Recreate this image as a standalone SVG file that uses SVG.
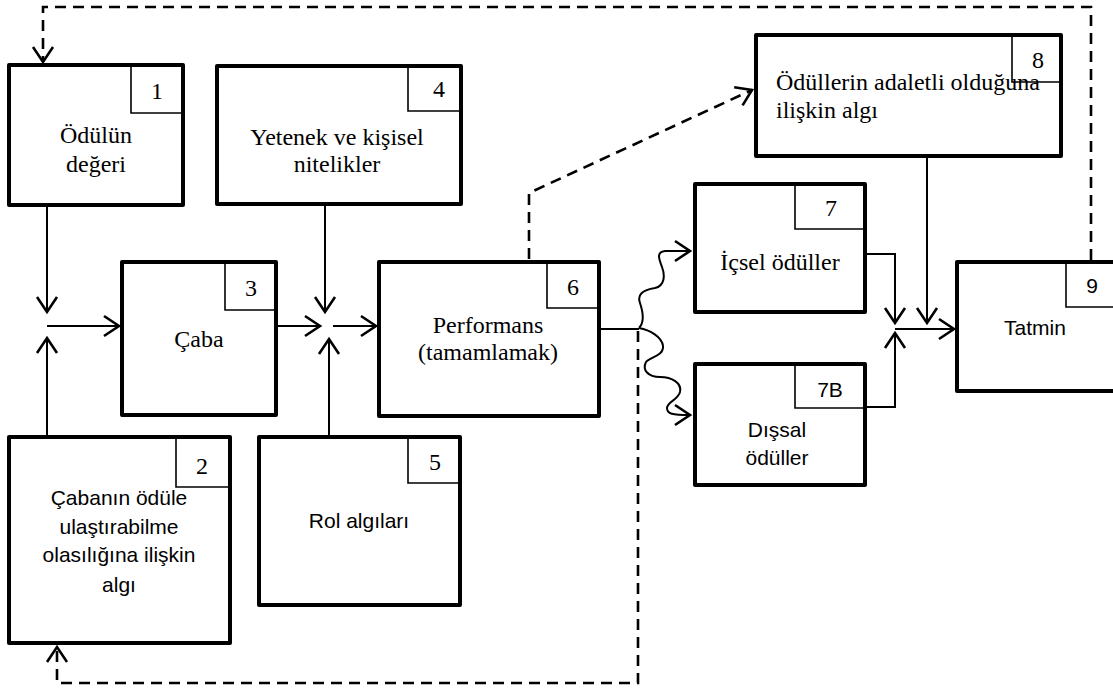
<svg xmlns="http://www.w3.org/2000/svg" width="1113" height="690" viewBox="0 0 1113 690">
<style>
.box{fill:#fff;stroke:#000;stroke-width:4;stroke-linejoin:round}
.num{fill:none;stroke:#000;stroke-width:1.6}
.ser{font-family:"Liberation Serif","Times New Roman",serif;font-size:24px;fill:#000}
.sans{font-family:"Liberation Sans",Arial,sans-serif;font-size:21px;fill:#000}
.c{text-anchor:middle}
.ln{fill:none;stroke:#000;stroke-width:2}
.dash{fill:none;stroke:#000;stroke-width:2.6;stroke-dasharray:11 7}
</style>
<defs>
<marker id="arr" markerUnits="userSpaceOnUse" viewBox="-18 -13 21 26" markerWidth="21" markerHeight="26" refX="0" refY="0" orient="auto">
<path d="M-15,-10 L0,0 L-15,10" fill="none" stroke="#000" stroke-width="2.6" stroke-dasharray="none" stroke-linejoin="miter"/>
</marker>
</defs>
<rect width="1113" height="690" fill="#fff"/>
<g id="connectors">
<path class="ln" d="M47 207 V312" marker-end="url(#arr)"/>
<path class="ln" d="M47 326 H119" marker-end="url(#arr)"/>
<path class="ln" d="M47 435 V338" marker-end="url(#arr)"/>
<path class="ln" d="M278 326 H320" marker-end="url(#arr)"/>
<path class="ln" d="M325 206 V312" marker-end="url(#arr)"/>
<path class="ln" d="M329 435 V339" marker-end="url(#arr)"/>
<path class="ln" d="M333 326 H376" marker-end="url(#arr)"/>
<path class="ln" d="M601 329 H639"/>
<path class="ln" d="M639 328 C645 322, 643 312, 640 303 C637 295, 642 290, 655 288 C665 286, 665 275, 662 267 C659 259, 656 252, 665 251 L690 251" marker-end="url(#arr)"/>
<path class="ln" d="M639 328 C650 330, 662 337, 663 346 C664 356, 650 357, 646 362 C642 370, 648 377, 660 377 C672 377, 682 383, 680 392 C678 400, 667 402, 667 408 C667 414, 672 415, 690 415" marker-end="url(#arr)"/>
<path class="ln" d="M867 254 H895 V323" marker-end="url(#arr)"/>
<path class="ln" d="M867 407 H895 V333" marker-end="url(#arr)"/>
<path class="ln" d="M895 329 H954" marker-end="url(#arr)"/>
<path class="ln" d="M927 158 V323" marker-end="url(#arr)"/>
<path class="dash" d="M1091 260 V7 H43 V62" marker-end="url(#arr)"/>
<path class="dash" d="M638 331 V683 H57 V647" marker-end="url(#arr)"/>
<path class="dash" d="M529 259 V193 L752 90" marker-end="url(#arr)"/>
</g>
<g id="node1">
<rect class="box" x="9" y="65" width="174" height="140"/>
<path class="num" d="M131 65 V113 H183"/>
<text class="ser c" x="157" y="99">1</text>
<text class="ser c" x="96" y="143">Ödülün</text>
<text class="ser c" x="96" y="172">değeri</text>
</g>
<g id="node4">
<rect class="box" x="217" y="66" width="244" height="138"/>
<path class="num" d="M408 66 V111 H461"/>
<text class="ser c" x="439" y="97">4</text>
<text class="ser c" x="337" y="145">Yetenek ve kişisel</text>
<text class="ser c" x="337" y="172">nitelikler</text>
</g>
<g id="node3">
<rect class="box" x="122" y="262" width="154" height="153"/>
<path class="num" d="M225 262 V310 H276"/>
<text class="ser c" x="251" y="296">3</text>
<text class="ser c" x="199" y="347">Çaba</text>
</g>
<g id="node2">
<rect class="box" x="9" y="437" width="221" height="206"/>
<path class="num" d="M176 437 V487 H230"/>
<text class="ser c" x="202" y="474">2</text>
<text class="sans c" x="119" y="505">Çabanın ödüle</text>
<text class="sans c" x="119" y="534">ulaştırabilme</text>
<text class="sans c" x="119" y="562">olasılığına ilişkin</text>
<text class="sans c" x="119" y="592">algı</text>
</g>
<g id="node5">
<rect class="box" x="259" y="437" width="201" height="168"/>
<path class="num" d="M408 437 V483 H460"/>
<text class="ser c" x="435" y="470">5</text>
<text class="sans c" x="359" y="528">Rol algıları</text>
</g>
<g id="node6">
<rect class="box" x="379" y="262" width="220" height="154"/>
<path class="num" d="M547 262 V308 H599"/>
<text class="ser c" x="573" y="295">6</text>
<text class="ser c" x="488" y="333">Performans</text>
<text class="ser c" x="488" y="360">(tamamlamak)</text>
</g>
<g id="node8">
<rect class="box" x="756" y="35" width="305" height="121"/>
<path class="num" d="M1012 35 V82 H1061"/>
<text class="ser c" x="1038" y="68">8</text>
<text class="ser" x="776" y="90">Ödüllerin adaletli olduğuna</text>
<text class="ser" x="776" y="118">ilişkin algı</text>
</g>
<g id="node7">
<rect class="box" x="695" y="184" width="170" height="128"/>
<path class="num" d="M795 184 V229 H865"/>
<text class="ser c" x="831" y="216">7</text>
<text class="ser c" x="780" y="270">İçsel ödüller</text>
</g>
<g id="node7B">
<rect class="box" x="695" y="364" width="170" height="121"/>
<path class="num" d="M795 364 V408 H865"/>
<text class="sans c" x="830" y="397">7B</text>
<text class="sans c" x="777" y="437">Dışsal</text>
<text class="sans c" x="777" y="465">ödüller</text>
</g>
<g id="node9">
<rect class="box" x="957" y="262" width="170" height="129"/>
<path class="num" d="M1066 262 V307 H1113"/>
<text class="sans c" x="1092" y="293">9</text>
<text class="sans c" x="1035" y="335">Tatmin</text>
</g>
</svg>
